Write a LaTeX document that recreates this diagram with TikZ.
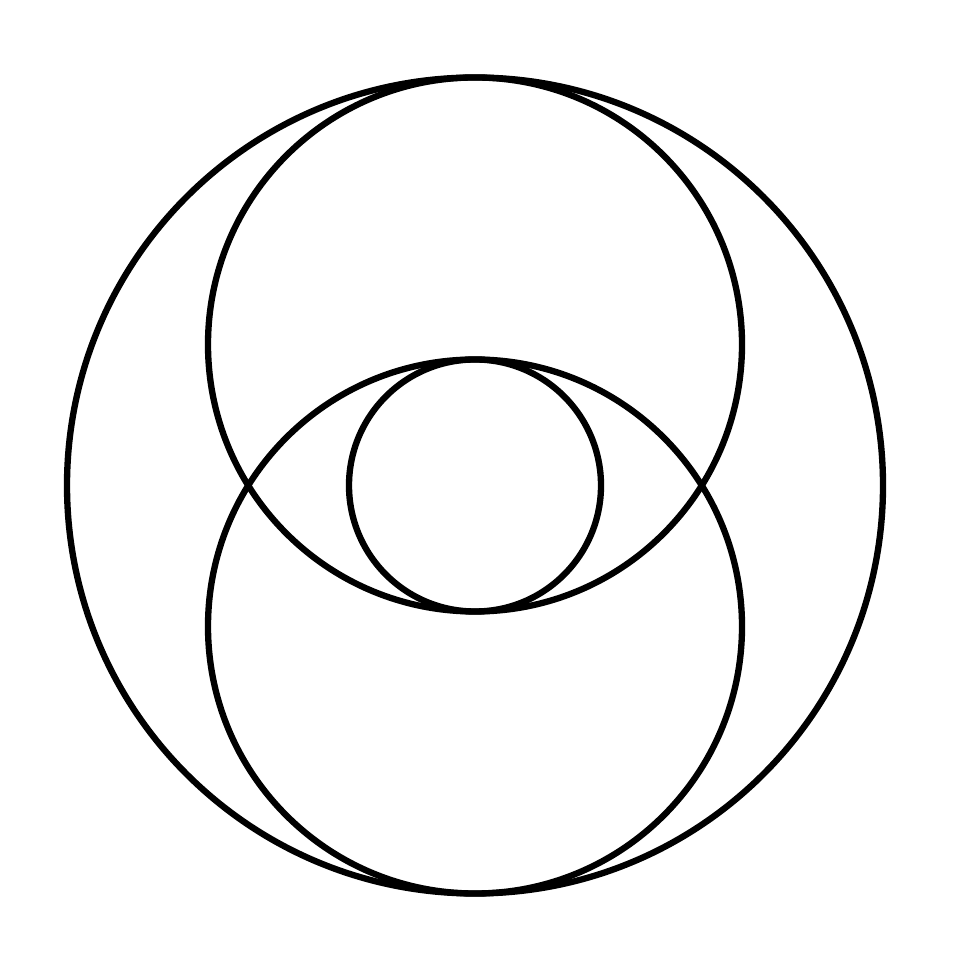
\documentclass[tikz,border=0pt]{standalone}
\usepackage{tikz}
\usetikzlibrary{calc}

\tikzset{ring/.style={draw=black, line width=1.8pt}}

\begin{document}
\begin{tikzpicture}
  % Canvas
  \useasboundingbox (0,0) rectangle (9.53,9.53);
  \coordinate (mid) at (4.75,4.675);

  % Outer circle
  \draw[ring] (mid) circle (4.08);

  % Upper and lower circles - both touch the outer one
  \draw[ring] ($(mid)+(0,1.41)$) circle (2.67);
  \draw[ring] ($(mid)-(0,1.41)$) circle (2.67);

  % Small centre circle
  \draw[ring] (mid) circle (1.26);
\end{tikzpicture}
\end{document}
